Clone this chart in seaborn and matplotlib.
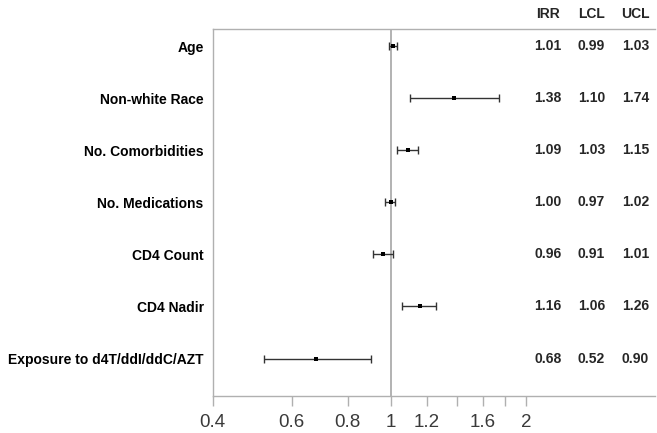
import numpy as np
import pandas as pd
import matplotlib
matplotlib.use("Agg")
import matplotlib.pyplot as plt
import matplotlib.transforms as mtransforms
import seaborn as sns

# Data
variables = ["Age", "Non-white Race", "No. Comorbidities", "No. Medications",
             "CD4 Count", "CD4 Nadir", "Exposure to d4T/ddI/ddC/AZT"]
irr = [1.01, 1.38, 1.09, 1.00, 0.96, 1.16, 0.68]
lcl = [0.99, 1.10, 1.03, 0.97, 0.91, 1.06, 0.52]
ucl = [1.03, 1.74, 1.15, 1.02, 1.01, 1.26, 0.90]

tick_values = [0.4, 0.6, 0.8, 1, 1.2, 1.4, 1.6, 1.8, 2]
tick_labels = ["0.4", "0.6", "0.8", "1", "1.2", "", "1.6", "", "2"]

df = pd.DataFrame({"variable": variables, "IRR": irr, "LCL": lcl, "UCL": ucl})
df["row"] = np.arange(len(df))

sns.set_style("white")
plt.rcParams['font.family'] = ['Liberation Sans', 'DejaVu Sans']

fig = plt.figure(figsize=(6.57, 4.33), dpi=100)
ax = fig.add_axes([0.3237, 0.0855, 0.674, 0.8475])

ax.set_xscale("log")
ax.set_xlim(0.4, 3.89)
ax.set_ylim(6.72, -0.33)

# reference line at 1
ax.axvline(1, color="#a6a6a6", lw=1.2, zorder=1)

# whiskers
ax.errorbar(df["IRR"], df["row"],
            xerr=[df["IRR"] - df["LCL"], df["UCL"] - df["IRR"]],
            fmt="none", ecolor="#333333", elinewidth=1, capsize=3.2,
            capthick=1, zorder=2)
sns.scatterplot(data=df, x="IRR", y="row", marker="s", s=12, color="black",
                edgecolor="black", linewidth=0, ax=ax, zorder=3, legend=False)

# axis styling
for side in ["left", "top", "bottom"]:
    ax.spines[side].set_color("#b0b0b0")
    ax.spines[side].set_linewidth(1)
ax.spines["right"].set_visible(False)

ax.set_xticks(tick_values)
ax.set_xticklabels(tick_labels)
ax.xaxis.set_minor_locator(matplotlib.ticker.NullLocator())
ax.tick_params(axis="x", bottom=True, length=7, width=1, color="#b0b0b0",
               labelsize=13.5, labelcolor="#3a3a3a", pad=6)

ax.set_yticks(df["row"])
ax.set_yticklabels(variables, fontweight="bold", fontsize=10)
ax.tick_params(axis="y", left=False, length=0, pad=6.5, labelcolor="black")
ax.set_xlabel("")
ax.set_ylabel("")

# table of estimates on the right
trans = mtransforms.blended_transform_factory(ax.transAxes, ax.transData)
col_x = [0.757, 0.855, 0.955]
col_names = ["IRR", "LCL", "UCL"]
for cx, name in zip(col_x, col_names):
    ax.text(cx, 1.04, name, transform=ax.transAxes, ha="center", va="center",
            fontweight="bold", fontsize=10)
    for r, v in zip(df["row"], df[name]):
        ax.text(cx, r, f"{v:.2f}", transform=trans, ha="center", va="center",
                fontweight="bold", fontsize=10)

fig.savefig("out.png", dpi=100)
